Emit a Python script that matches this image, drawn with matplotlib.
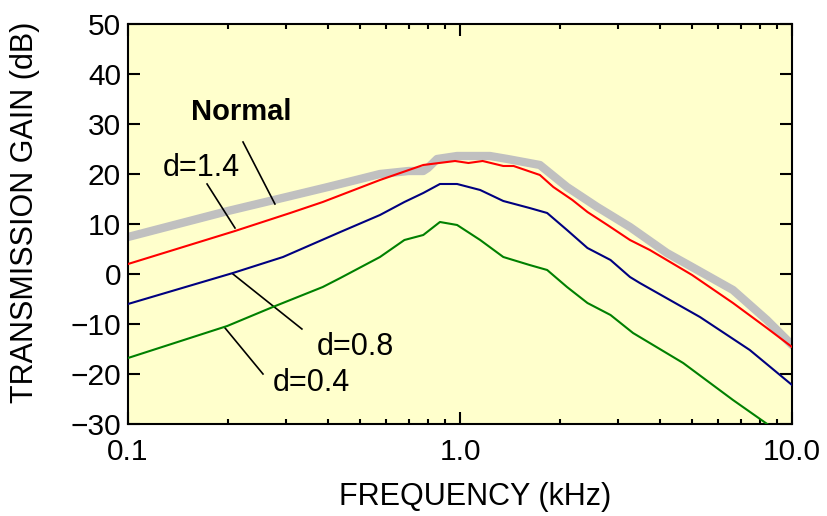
import matplotlib
matplotlib.use("Agg")
import matplotlib.pyplot as plt
from matplotlib.ticker import FixedLocator, LogLocator, NullFormatter

plt.rcParams['font.family'] = ['Liberation Sans', 'DejaVu Sans']

# Normal (thick grey)
f_normal = [0.1, 0.2, 0.3, 0.4, 0.5, 0.574, 0.70, 0.775, 0.80, 0.853, 0.98, 1.23, 1.39,
            1.74, 2.10, 2.59, 3.25, 4.2, 5.0, 6.64, 8.4, 10.0]
g_normal = [7.4, 12.6, 15.4, 17.4, 19.0, 20.0, 20.6, 20.6, 21.2, 23.0, 23.6, 23.6, 23.0,
            21.8, 17.4, 13.4, 9.4, 4.2, 1.4, -3.2, -9.2, -14.2]

# d = 1.4 (red)
f_d14 = [0.1, 0.21, 0.308, 0.386, 0.574, 0.775, 0.966, 1.06, 1.17, 1.35, 1.45,
         1.74, 1.91, 2.18, 2.42, 2.78, 3.25, 3.73, 5.0, 6.64, 8.4, 10.0]
g_d14 = [2.0, 8.6, 12.2, 14.4, 18.8, 21.8, 22.6, 22.2, 22.6, 21.6, 21.6,
         19.8, 17.4, 14.8, 12.4, 9.8, 6.8, 4.8, -0.2, -5.8, -10.8, -14.6]

# d = 0.8 (blue)
f_d08 = [0.1, 0.207, 0.293, 0.436, 0.574, 0.68, 0.775, 0.87, 0.98, 1.15, 1.35,
         1.62, 1.83, 2.10, 2.42, 2.84, 3.25, 3.48, 5.28, 7.46, 10.0]
g_d08 = [-6.0, 0.2, 3.4, 8.4, 11.8, 14.4, 16.2, 18.0, 18.0, 16.8, 14.6,
         13.2, 12.2, 8.8, 5.2, 2.8, -0.6, -1.8, -8.6, -15.2, -22.2]

# d = 0.4 (green)
f_d04 = [0.1, 0.199, 0.273, 0.386, 0.436, 0.574, 0.68, 0.775, 0.87, 0.98, 1.15,
         1.35, 1.62, 1.83, 2.10, 2.42, 2.84, 3.32, 4.70, 6.64, 8.5, 10.0]
g_d04 = [-16.8, -10.4, -6.6, -2.6, -0.8, 3.4, 6.8, 7.8, 10.4, 9.8, 6.8,
         3.4, 1.8, 0.8, -2.6, -5.8, -8.2, -11.8, -17.8, -25.2, -30.2, -33.5]

x_ticks = [0.1, 1.0, 10.0]
x_ticklabels = ['0.1', '1.0', '10.0']
y_ticks = [-30, -20, -10, 0, 10, 20, 30, 40, 50]

fig = plt.figure(figsize=(8.27, 5.16), dpi=100)
ax = fig.add_axes([0.1548, 0.1783, 0.8029, 0.7752])
ax.set_facecolor('#FFFFCC')

ax.plot(f_normal, g_normal, color='#C0C0C0', lw=6, solid_capstyle='round', zorder=2)
ax.plot(f_d14, g_d14, color='#FF0000', lw=1.5, zorder=3)
ax.plot(f_d08, g_d08, color='#000080', lw=1.5, zorder=3)
ax.plot(f_d04, g_d04, color='#008000', lw=1.5, zorder=3)

ax.set_xscale('log')
ax.set_xlim(0.1, 10)
ax.set_ylim(-30, 50)
ax.xaxis.set_major_locator(FixedLocator(x_ticks))
ax.set_xticklabels(x_ticklabels)
ax.xaxis.set_minor_locator(LogLocator(base=10, subs=range(2, 10)))
ax.xaxis.set_minor_formatter(NullFormatter())
ax.set_yticks(y_ticks)

ax.tick_params(which='both', direction='in', top=True, right=True, width=1.5,
               labelsize=21.5, colors='black')
ax.tick_params(which='major', length=8.5)
ax.tick_params(which='minor', length=3.5)
ax.tick_params(axis='x', pad=10)
ax.tick_params(axis='y', pad=5)
for s in ax.spines.values():
    s.set_linewidth(1.5)

ax.set_xlabel('FREQUENCY (kHz)', fontsize=22)
ax.set_ylabel('TRANSMISSION GAIN (dB)', fontsize=22)
ax.xaxis.set_label_coords(0.5226, -0.1825)
ax.xaxis.label.set_va('center')
ax.yaxis.set_label_coords(-0.155, 0.53)
ax.yaxis.label.set_va('center')

# annotations
ax.text(0.22, 32.4, 'Normal', fontsize=21, fontweight='bold', ha='center', va='center')
ax.plot([0.222, 0.277], [26.4, 14.0], color='black', lw=1.2)
ax.text(0.166, 21.2, 'd=1.4', fontsize=22, ha='center', va='center')
ax.plot([0.173, 0.21], [18.0, 9.2], color='black', lw=1.2)
ax.text(0.483, -14.6, 'd=0.8', fontsize=22, ha='center', va='center')
ax.plot([0.207, 0.334], [0.0, -11.0], color='black', lw=1.2)
ax.text(0.356, -21.8, 'd=0.4', fontsize=22, ha='center', va='center')
ax.plot([0.196, 0.255], [-10.8, -20.0], color='black', lw=1.2)

fig.savefig('out.png', dpi=100)
